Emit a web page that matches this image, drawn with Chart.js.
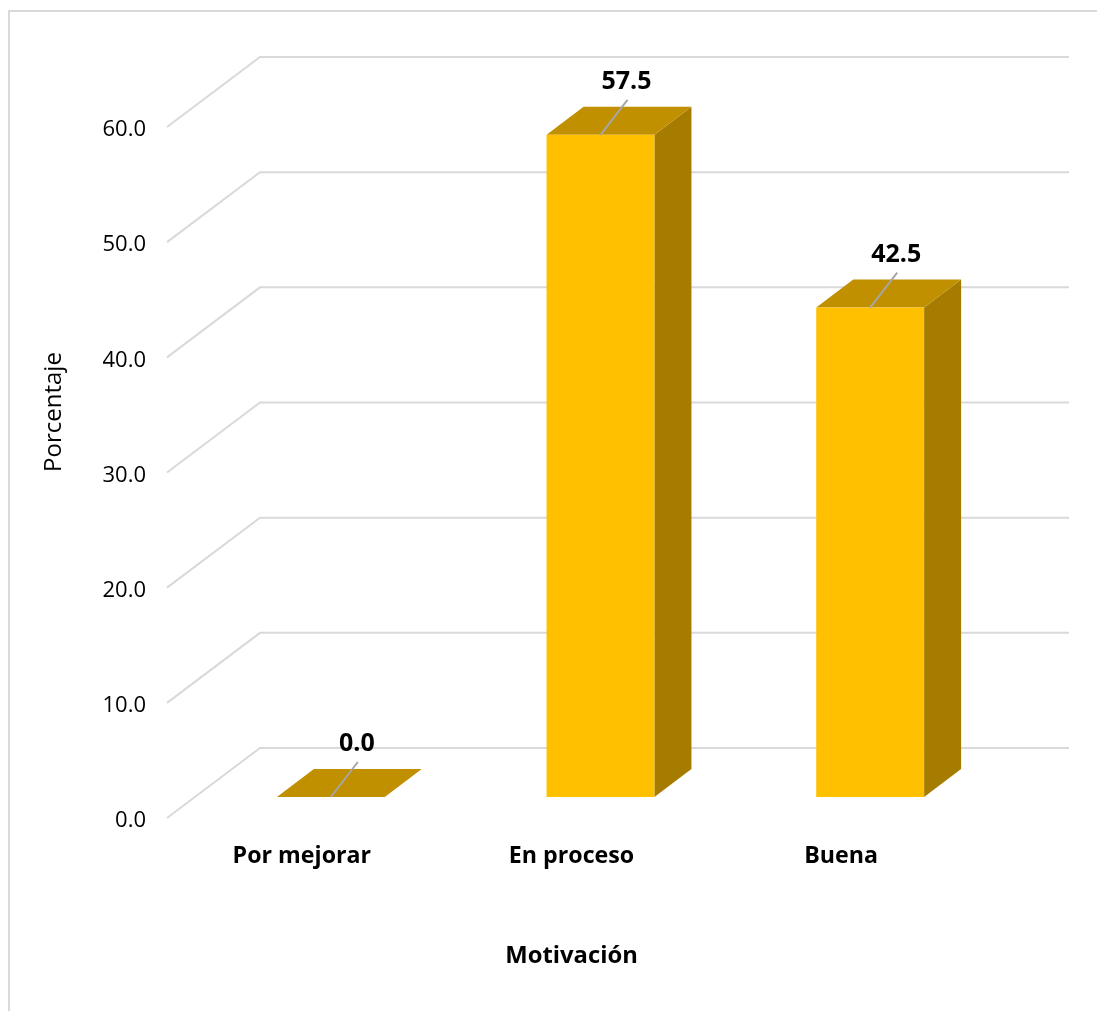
<!DOCTYPE html>
<html lang="es">
<head>
<meta charset="utf-8">
<title>Motivación</title>
<script src="https://cdn.jsdelivr.net/npm/chart.js@4"></script>
<style>
    html, body { margin: 0; padding: 0; background: #fff; overflow: hidden; }
    canvas { display: block; }
</style>
</head>
<body>
<canvas id="motivacionChart" width="1097" height="1011"></canvas>
<script>
const categorias = ['Por mejorar', 'En proceso', 'Buena'];
const porcentajes = [0.0, 57.5, 42.5];

const FUENTE = '"Open Sans", "Noto Sans", sans-serif';
const COLOR_FRENTE = '#FFC000';
const COLOR_TAPA = '#C09000';
const COLOR_LADO = '#A67C00';
const COLOR_REJILLA = '#D9D9D9';
const COLOR_GUIA = '#A6A6A6';

// desplazamientos de la perspectiva: pared del fondo, plano de las barras y fondo de la barra
const PARED = { dx: 93, dy: -70 };
const PLANO_BARRA = { dx: 29, dy: -21 };
const FONDO_BARRA = { dx: 37, dy: -28 };

function poligono(ctx, puntos, color) {
    ctx.fillStyle = color;
    ctx.beginPath();
    puntos.forEach(([x, y], i) => i ? ctx.lineTo(x, y) : ctx.moveTo(x, y));
    ctx.closePath();
    ctx.fill();
}

/* ---- marco, rejilla en perspectiva y título vertical ---- */
const fondo3d = {
    id: 'fondo3d',
    beforeDatasetsDraw(chart) {
        const { ctx, scales: { y }, chartArea } = chart;
        ctx.save();

        ctx.strokeStyle = '#D9D9D9';
        ctx.lineWidth = 2;
        ctx.beginPath();
        ctx.moveTo(9, 1011);
        ctx.lineTo(9, 11);
        ctx.lineTo(1097, 11);
        ctx.stroke();

        ctx.strokeStyle = COLOR_REJILLA;
        y.ticks.forEach(t => {
            const py = y.getPixelForValue(t.value);
            ctx.beginPath();
            ctx.moveTo(chartArea.left, py);
            ctx.lineTo(chartArea.left + PARED.dx, py + PARED.dy);
            ctx.lineTo(chartArea.right + PARED.dx, py + PARED.dy);
            ctx.stroke();
        });

        ctx.fillStyle = '#000';
        ctx.font = `24px ${FUENTE}`;
        ctx.textAlign = 'center';
        ctx.textBaseline = 'middle';
        ctx.translate(54, 412);
        ctx.rotate(-Math.PI / 2);
        ctx.fillText('Porcentaje', 0, 0);
        ctx.restore();
    },
    // las barras se pintan sobre su propio plano, un poco hacia el fondo
    beforeDatasetDraw(chart) {
        chart.ctx.save();
        chart.ctx.translate(PLANO_BARRA.dx, PLANO_BARRA.dy);
        chart.getDatasetMeta(0).data.forEach(b => {
            const izq = b.x - b.width / 2, der = b.x + b.width / 2;
            const d = FONDO_BARRA;
            poligono(chart.ctx, [[der, b.y], [der + d.dx, b.y + d.dy], [der + d.dx, b.base + d.dy], [der, b.base]], COLOR_LADO);
            poligono(chart.ctx, [[izq, b.y], [izq + d.dx, b.y + d.dy], [der + d.dx, b.y + d.dy], [der, b.y]], COLOR_TAPA);
        });
    },
    afterDatasetDraw(chart) {
        chart.ctx.restore();
    },
    /* ---- etiquetas de valor con su línea guía ---- */
    afterDatasetsDraw(chart) {
        const { ctx } = chart;
        ctx.save();
        ctx.font = `bold 25px ${FUENTE}`;
        ctx.textAlign = 'center';
        ctx.textBaseline = 'middle';
        chart.getDatasetMeta(0).data.forEach((b, i) => {
            const x = b.x + PLANO_BARRA.dx, py = b.y + PLANO_BARRA.dy;
            ctx.strokeStyle = COLOR_GUIA;
            ctx.lineWidth = 2;
            ctx.beginPath();
            ctx.moveTo(x, py);
            ctx.lineTo(x + 27, py - 35);
            ctx.stroke();
            ctx.fillStyle = '#000';
            ctx.fillText(porcentajes[i].toFixed(1), x + 26, py - 53);
        });
        ctx.restore();
    }
};

new Chart(document.getElementById('motivacionChart'), {
    type: 'bar',
    data: {
        labels: categorias,
        datasets: [{
            data: porcentajes,
            backgroundColor: COLOR_FRENTE,
            borderWidth: 0,
            categoryPercentage: 1,
            barPercentage: 0.4,
            clip: false
        }]
    },
    plugins: [fondo3d],
    options: {
        responsive: false,
        animation: false,
        layout: { padding: { top: 127, right: 121 } },
        plugins: {
            legend: { display: false },
            title: { display: false },
            tooltip: { enabled: false }
        },
        scales: {
            x: {
                grid: { display: false },
                border: { display: false },
                ticks: {
                    color: '#000',
                    padding: 16,
                    maxRotation: 0,
                    font: { family: FUENTE, size: 23.2, weight: 'bold' }
                },
                title: {
                    display: true,
                    text: 'Motivación',
                    color: '#000',
                    padding: { top: 0, bottom: 41 },
                    font: { family: FUENTE, size: 23.8, weight: 'bold' }
                },
                afterFit(axis) { axis.height = 193; }
            },
            y: {
                min: 0,
                max: 60,
                grid: { display: false },
                border: { display: false },
                ticks: {
                    stepSize: 10,
                    color: '#000',
                    padding: 13,
                    labelOffset: 3,
                    font: { family: FUENTE, size: 22 },
                    callback: v => v.toFixed(1)
                },
                afterFit(axis) { axis.width = 167; }
            }
        }
    }
});
</script>
</body>
</html>
